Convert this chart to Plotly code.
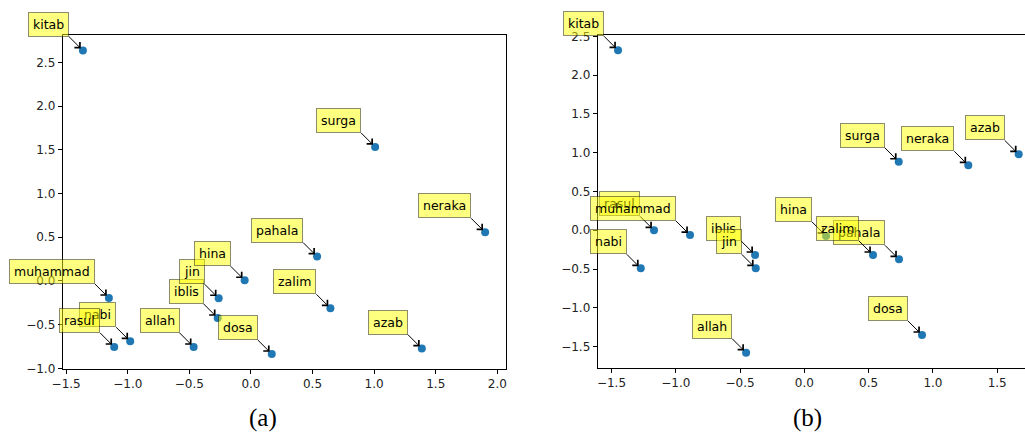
import plotly.graph_objects as go

# ---- data ----
words = ["allah", "nabi", "rasul", "muhammad", "kitab", "iblis", "jin",
         "hina", "surga", "neraka", "pahala", "zalim", "dosa", "azab"]

# panel (a)
xa = [-0.465, -0.980, -1.110, -1.153, -1.364, -0.270, -0.262,
      -0.051, 1.008, 1.901, 0.537, 0.645, 0.169, 1.387]
ya = [-0.756, -0.691, -0.756, -0.195, 2.637, -0.424, -0.198,
      0.008, 1.534, 0.557, 0.279, -0.313, -0.836, -0.774]

# panel (b)
xb = [-0.453, -1.272, -1.169, -0.889, -1.449, -0.383, -0.378,
      0.169, 0.734, 1.275, 0.736, 0.534, 0.915, 1.667]
yb = [-1.577, -0.490, 0.000, -0.061, 2.320, -0.318, -0.490,
      -0.073, 0.884, 0.838, -0.374, -0.318, -1.349, 0.979]

xticks_a = [-1.5, -1.0, -0.5, 0.0, 0.5, 1.0, 1.5, 2.0]
yticks_a = [-1.0, -0.5, 0.0, 0.5, 1.0, 1.5, 2.0, 2.5]
xticks_b = [-1.5, -1.0, -0.5, 0.0, 0.5, 1.0, 1.5]
yticks_b = [-1.5, -1.0, -0.5, 0.0, 0.5, 1.0, 1.5, 2.0, 2.5]
captions = ["(a)", "(b)"]

BLUE = "#1f77b4"
FONT = "DejaVu Sans"

fig = go.Figure()
fig.add_trace(go.Scatter(x=xa, y=ya, mode="markers", xaxis="x", yaxis="y",
                         marker=dict(color=BLUE, size=8), showlegend=False,
                         hoverinfo="skip", cliponaxis=False))
fig.add_trace(go.Scatter(x=xb, y=yb, mode="markers", xaxis="x2", yaxis="y2",
                         marker=dict(color=BLUE, size=8), showlegend=False,
                         hoverinfo="skip", cliponaxis=False))

annotations = []
for xs, ys, xr, yr in [(xa, ya, "x", "y"), (xb, yb, "x2", "y2")]:
    for w, xv, yv in zip(words, xs, ys):
        annotations.append(dict(
            x=xv, y=yv, xref=xr, yref=yr, text=w,
            showarrow=True, ax=-14, ay=-14, axref="pixel", ayref="pixel",
            xanchor="right", yanchor="bottom",
            arrowhead=4, arrowsize=1.5, arrowwidth=1, arrowcolor="black",
            standoff=3,
            bgcolor="rgba(255,255,0,0.5)", bordercolor="rgba(0,0,0,0.45)",
            borderwidth=1, borderpad=4,
            font=dict(family=FONT, size=12.5, color="black"),
        ))

for cap, cx in zip(captions, [263 / 1025, 807 / 1025]):
    annotations.append(dict(
        x=cx, y=0.032, xref="paper", yref="paper", text=cap, showarrow=False,
        xanchor="center", yanchor="middle",
        font=dict(family="Liberation Serif", size=25, color="black"),
    ))

axis_common = dict(showgrid=False, zeroline=False, showline=True,
                   linecolor="black", linewidth=1, ticks="outside",
                   ticklen=4, tickwidth=1, tickcolor="black",
                   tickfont=dict(family=FONT, size=12, color="#222222"),
                   tickformat=".1f", automargin=False)

fig.update_layout(
    width=1025, height=432,
    margin=dict(l=0, r=0, t=0, b=0, pad=0, autoexpand=False),
    paper_bgcolor="white", plot_bgcolor="white",
    showlegend=False,
    xaxis=dict(axis_common, domain=[62.7 / 1025, 505.7 / 1025],
               range=[-1.528, 2.068], tickvals=xticks_a, mirror=True,
               anchor="y"),
    yaxis=dict(axis_common, domain=[1 - 369 / 432, 1 - 35 / 432],
               range=[-1.008, 2.815], tickvals=yticks_a, mirror=True,
               anchor="x"),
    xaxis2=dict(axis_common, domain=[597.7 / 1025, 1.0],
                range=[-1.607, 1.716], tickvals=xticks_b, mirror=True,
                anchor="y2"),
    yaxis2=dict(axis_common, domain=[1 - 367.7 / 432, 1 - 35 / 432],
                range=[-1.771, 2.517], tickvals=yticks_b, mirror=False,
                anchor="x2"),
    annotations=annotations,
)

fig.write_html("out.html")
